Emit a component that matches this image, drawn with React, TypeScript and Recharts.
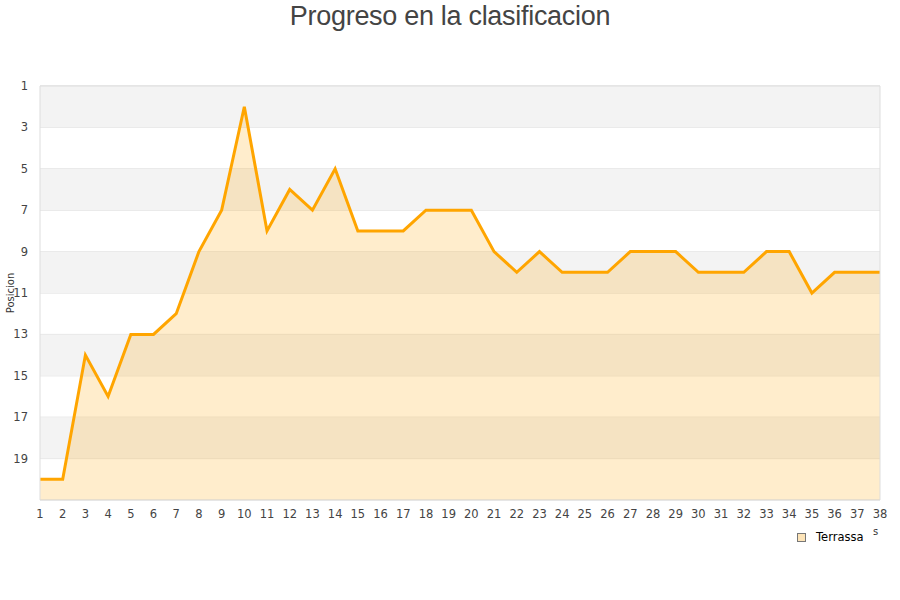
import React from 'react';
import { AreaChart, Area, XAxis, YAxis, CartesianGrid, ReferenceArea, ReferenceLine } from 'recharts';

const jornadas = [1,2,3,4,5,6,7,8,9,10,11,12,13,14,15,16,17,18,19,20,21,22,23,24,25,26,27,28,29,30,31,32,33,34,35,36,37,38];
const posiciones = [20,20,14,16,13,13,12,9,7,2,8,6,7,5,8,8,8,7,7,7,9,10,9,10,10,10,9,9,9,10,10,10,9,9,11,10,10,10];
const yTicks = [1,3,5,7,9,11,13,15,17,19];
const bands = [[1,3],[5,7],[9,11],[13,15],[17,19]];
const seriesName = 'Terrassa';
const title = 'Progreso en la clasificacion';

const data = jornadas.map((j, i) => ({ jornada: j, pos: posiciones[i] }));

const font = "'DejaVu Sans', sans-serif";

export default function App() {
  return (
    <div style={{ position: 'absolute', left: 0, top: 0, width: 900, height: 600, background: '#fff' }}>
      <div style={{ position: 'absolute', left: 0, top: 0, width: 900, textAlign: 'center', fontFamily: "'Liberation Sans Narrow', 'Liberation Sans', Arial, sans-serif", fontSize: 27, color: '#444', lineHeight: '32px', letterSpacing: -0.3 }}>
        {title}
      </div>
      <AreaChart width={900} height={600} data={data} margin={{ top: 86, right: 20, bottom: 70, left: 0 }}>
        {bands.map(([a, b]) => (
          <ReferenceArea key={a} y1={a} y2={b} fill="#f3f3f3" fillOpacity={1} stroke="none" ifOverflow="hidden" />
        ))}
        <CartesianGrid vertical={false} stroke="#dddddd" />
        <ReferenceLine x={1} stroke="#dddddd" />
        <ReferenceLine x={38} stroke="#dddddd" />
        <ReferenceLine y={21} stroke="#dddddd" />
        <ReferenceLine y={1} stroke="#dddddd" />
        <XAxis
          dataKey="jornada"
          type="number"
          domain={[1, 38]}
          ticks={jornadas}
          interval={0}
          axisLine={false}
          tickLine={false}
          tickMargin={4}
          tick={{ fontSize: 11.5, fill: '#444', fontFamily: font }}
          height={30}
        />
        <YAxis
          type="number"
          reversed
          domain={[1, 21]}
          ticks={yTicks}
          interval={0}
          axisLine={false}
          tickLine={false}
          tickMargin={6}
          width={40}
          tick={{ fontSize: 11.5, fill: '#444', fontFamily: font }}
          label={{ value: 'Posicion', angle: -90, position: 'insideLeft', offset: 10, style: { fontSize: 10, fill: '#333', fontFamily: font, textAnchor: 'middle' } }}
        />
        <Area
          type="linear"
          dataKey="pos"
          name={seriesName}
          stroke="#FFA500"
          strokeWidth={3}
          fill="#FFA500"
          fillOpacity={0.2}
          baseValue={21}
          dot={false}
          activeDot={false}
          isAnimationActive={false}
        />
        <text x={873} y={535} fontSize={10} fill="#333" fontFamily={font}>s</text>
      </AreaChart>
      <div style={{ position: 'absolute', left: 797, top: 530, display: 'flex', alignItems: 'center', fontFamily: font, fontSize: 11.5, color: '#000' }}>
        <span style={{ display: 'inline-block', width: 7, height: 7, background: '#fde4b8', border: '1px solid #777', marginRight: 10 }} />
        <span>{seriesName}</span>
      </div>
    </div>
  );
}
